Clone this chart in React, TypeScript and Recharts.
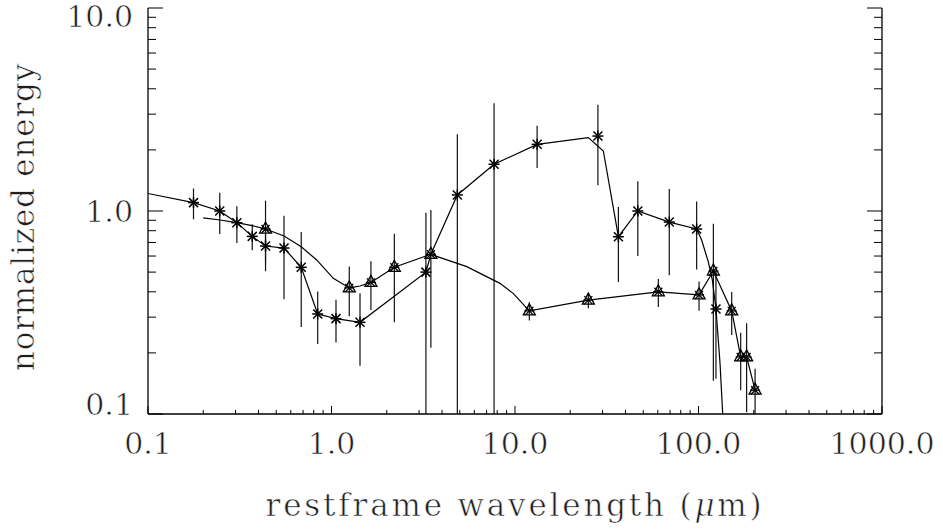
import React from 'react';
import { ComposedChart, Line, Scatter, XAxis, YAxis, Label } from 'recharts';

// ---- data ----
const starWavelength = [0.177, 0.246, 0.305, 0.370, 0.437, 0.551, 0.684, 0.841, 1.058, 1.43, 3.27, 4.85, 7.69, 13.2, 28.3, 36.6, 46.7, 69.3, 97.7, 124.5];
const starEnergy = [1.10, 1.00, 0.876, 0.75, 0.672, 0.657, 0.528, 0.311, 0.295, 0.283, 0.50, 1.20, 1.70, 2.13, 2.34, 0.747, 1.00, 0.882, 0.815, 0.329];
const starError = [0.19, 0.23, 0.18, 0.11, 0.12, 0.29, 0.26, 0.09, 0.07, 0.11, 0.48, 1.19, 1.69, 0.50, 1.00, 0.30, 0.40, 0.40, 0.30, 0.18];

const triWavelength = [0.437, 1.25, 1.64, 2.20, 3.48, 11.97, 25.1, 60.4, 100.7, 120.5, 151.7, 169.8, 182.9, 203.4];
const triEnergy = [0.815, 0.418, 0.445, 0.528, 0.612, 0.322, 0.364, 0.40, 0.386, 0.506, 0.322, 0.191, 0.191, 0.131];
const triError = [0.31, 0.115, 0.12, 0.245, 0.40, 0.033, 0.032, 0.063, 0.063, 0.36, 0.077, 0.06, 0.089, 0.036];

const modelAWavelength = [0.1, 0.177, 0.246, 0.305, 0.370, 0.437, 0.551, 0.684, 0.841, 1.058, 1.43, 3.27, 3.48, 4.85, 7.69, 13.2, 25.1, 30.3, 36.6, 46.7, 69.3, 97.7, 104, 113, 119, 124.5, 131, 135.5, 138];
const modelAEnergy = [1.22, 1.10, 1.00, 0.876, 0.75, 0.672, 0.657, 0.528, 0.311, 0.295, 0.283, 0.50, 0.612, 1.20, 1.70, 2.13, 2.30, 1.975, 0.747, 1.00, 0.882, 0.815, 0.72, 0.563, 0.457, 0.329, 0.178, 0.10, 0.07];

const modelBWavelength = [0.20, 0.247, 0.304, 0.375, 0.437, 0.551, 0.684, 0.83, 1.023, 1.25, 1.43, 1.64, 2.20, 3.48, 3.74, 5.46, 8.28, 9.77, 11.97, 25.1, 60.4, 100.7, 120.5, 151.7, 169.8, 182.9, 203.4];
const modelBEnergy = [0.924, 0.903, 0.876, 0.844, 0.815, 0.753, 0.667, 0.574, 0.466, 0.418, 0.427, 0.445, 0.528, 0.612, 0.598, 0.532, 0.44, 0.393, 0.322, 0.364, 0.40, 0.386, 0.506, 0.322, 0.191, 0.191, 0.131];

const xMajorTicks = [0.1, 1, 10, 100, 1000];
const yMajorTicks = [0.1, 1, 10];
const minorMultipliers = [2, 3, 4, 5, 6, 7, 8, 9];

const xTitle = 'restframe wavelength (';
const yTitle = 'normalized energy';

// ---- derived tables ----
const starData = starWavelength.map((x, i) => ({ x, y: starEnergy[i] }));
const triData = triWavelength.map((x, i) => ({ x, y: triEnergy[i] }));
const modelA = modelAWavelength.map((x, i) => ({ x, y: modelAEnergy[i] }));
const modelB = modelBWavelength.map((x, i) => ({ x, y: modelBEnergy[i] }));

// each error bar is a two-point vertical segment, clipped to the plot like any line
const errorSegments = [
  ...starWavelength.map((x, i) => [
    { x, y: starEnergy[i] - starError[i] },
    { x, y: starEnergy[i] + starError[i] },
  ]),
  ...triWavelength.map((x, i) => [
    { x, y: triEnergy[i] - triError[i] },
    { x, y: triEnergy[i] + triError[i] },
  ]),
];

const withMinors = (majors: number[]) => {
  const out: number[] = [];
  majors.forEach((m, i) => {
    out.push(m);
    if (i < majors.length - 1) minorMultipliers.forEach((k) => out.push(m * k));
  });
  return out;
};
const xAllTicks = withMinors(xMajorTicks);
const yAllTicks = withMinors(yMajorTicks);

const isMajor = (v: number) => Math.abs(Math.log10(v) - Math.round(Math.log10(v))) < 1e-6;
const fmt = (v: number) => v.toFixed(1);

const FONT = '"DejaVu Serif", serif';
const TXT = '#1e1e1e';
const textStyle = { fontFamily: FONT };
const thin = { stroke: '#fff', strokeWidth: 0.6 };

const BottomTick = (p: any) => {
  const { x, y, payload } = p;
  const major = isMajor(payload.value);
  return (
    <g>
      <line x1={x} y1={y} x2={x} y2={y - (major ? 8 : 4)} stroke="#000" strokeWidth={1} />
      {major && (
        <text x={x} y={y + 40} textAnchor="middle" style={textStyle} fontFamily={FONT} fontSize={30} fill={TXT} {...thin}>
          {fmt(payload.value)}
        </text>
      )}
    </g>
  );
};

const TopTick = (p: any) => {
  const { x, y, payload } = p;
  const major = isMajor(payload.value);
  return <line x1={x} y1={y} x2={x} y2={y + (major ? 8 : 4)} stroke="#000" strokeWidth={1} />;
};

const LeftTick = (p: any) => {
  const { x, y, payload } = p;
  const v = payload.value;
  const major = isMajor(v);
  const dy = v >= 10 ? 19 : v <= 0.1 ? 1 : 11;
  return (
    <g>
      <line x1={x} y1={y} x2={x + (major ? 15 : 8)} y2={y} stroke="#000" strokeWidth={1} />
      {major && (
        <text x={x - 15} y={y + dy} textAnchor="end" style={textStyle} fontFamily={FONT} fontSize={30} fill={TXT} {...thin}>
          {fmt(v)}
        </text>
      )}
    </g>
  );
};

const RightTick = (p: any) => {
  const { x, y, payload } = p;
  const major = isMajor(payload.value);
  return <line x1={x} y1={y} x2={x - (major ? 15 : 8)} y2={y} stroke="#000" strokeWidth={1} />;
};

const StarMark = (p: any) => {
  const { cx, cy } = p;
  const r = 5.5;
  const d = 4.5;
  return (
    <g stroke="#000" strokeWidth={1.5}>
      <line x1={cx - r} y1={cy} x2={cx + r} y2={cy} />
      <line x1={cx} y1={cy - r} x2={cx} y2={cy + r} />
      <line x1={cx - d} y1={cy - d} x2={cx + d} y2={cy + d} />
      <line x1={cx - d} y1={cy + d} x2={cx + d} y2={cy - d} />
    </g>
  );
};

const TriMark = (p: any) => {
  const { cx, cy } = p;
  const d = 4;
  return (
    <g stroke="#000" strokeWidth={1.3} fill="none">
      <polygon points={`${cx},${cy - 7} ${cx - 6},${cy + 4} ${cx + 6},${cy + 4}`} />
      <line x1={cx - d} y1={cy - d} x2={cx + d} y2={cy + d} />
      <line x1={cx - d} y1={cy + d} x2={cx + d} y2={cy - d} />
      <line x1={cx - 5} y1={cy} x2={cx + 5} y2={cy} />
    </g>
  );
};

const XTitle = (p: any) => {
  const vb = p.viewBox;
  return (
    <text x={vb.x + vb.width / 2} y={vb.y + vb.height - 13} textAnchor="middle" style={textStyle} fontFamily={FONT} fontSize={31} letterSpacing={2.8} fill={TXT} {...thin}>
      {xTitle}
      <tspan fontStyle="italic">μ</tspan>
      {'m)'}
    </text>
  );
};

const YTitle = () => {
  const cx = 34;
  const cy = 217;
  return (
    <text x={cx} y={cy} transform={`rotate(-90, ${cx}, ${cy})`} textAnchor="middle" style={textStyle} fontFamily={FONT} fontSize={31} letterSpacing={0.8} fill={TXT} {...thin}>
      {yTitle}
    </text>
  );
};

export default function App() {
  return (
    <div style={{ position: 'absolute', left: 0, top: 0, width: 943, height: 529, background: '#fff' }}>
      <ComposedChart width={943} height={529} margin={{ top: 8, right: 60, bottom: 0, left: 0 }}>
        <XAxis
          xAxisId="bottom"
          dataKey="x"
          type="number"
          scale="log"
          domain={[0.1, 1000]}
          allowDataOverflow
          ticks={xAllTicks}
          interval={0}
          tickSize={0}
          tickMargin={0}
          height={115}
          tickLine={false}
          tick={<BottomTick />}
          axisLine={{ stroke: '#000', strokeWidth: 1.3 }}
        >
          <Label content={<XTitle />} />
        </XAxis>
        <XAxis
          xAxisId="top"
          orientation="top"
          dataKey="x"
          type="number"
          scale="log"
          domain={[0.1, 1000]}
          allowDataOverflow
          ticks={xAllTicks}
          interval={0}
          tickSize={0}
          tickMargin={0}
          height={0}
          tickLine={false}
          tick={<TopTick />}
          axisLine={{ stroke: '#000', strokeWidth: 1.3 }}
        />
        <YAxis
          yAxisId="left"
          dataKey="y"
          type="number"
          scale="log"
          domain={[0.1, 10]}
          allowDataOverflow
          ticks={yAllTicks}
          interval={0}
          tickSize={0}
          tickMargin={0}
          width={148}
          tickLine={false}
          tick={<LeftTick />}
          axisLine={{ stroke: '#000', strokeWidth: 1.3 }}
        >
          <Label content={<YTitle />} />
        </YAxis>
        <YAxis
          yAxisId="right"
          orientation="right"
          dataKey="y"
          type="number"
          scale="log"
          domain={[0.1, 10]}
          allowDataOverflow
          ticks={yAllTicks}
          interval={0}
          tickSize={0}
          tickMargin={0}
          width={1}
          tickLine={false}
          tick={<RightTick />}
          axisLine={{ stroke: '#000', strokeWidth: 1.3 }}
        />
        {errorSegments.map((seg, i) => (
          <Line
            key={`err-${i}`}
            data={seg}
            dataKey="y"
            xAxisId="bottom"
            yAxisId="left"
            type="linear"
            stroke="#111"
            strokeWidth={1.2}
            dot={false}
            activeDot={false}
            isAnimationActive={false}
          />
        ))}
        <Line
          data={modelA}
          dataKey="y"
          xAxisId="bottom"
          yAxisId="left"
          type="linear"
          stroke="#000"
          strokeWidth={1.2}
          dot={false}
          activeDot={false}
          isAnimationActive={false}
        />
        <Line
          data={modelB}
          dataKey="y"
          xAxisId="bottom"
          yAxisId="left"
          type="linear"
          stroke="#000"
          strokeWidth={1.2}
          dot={false}
          activeDot={false}
          isAnimationActive={false}
        />
        <Scatter data={starData} dataKey="y" xAxisId="bottom" yAxisId="left" shape={<StarMark />} isAnimationActive={false} />
        <Scatter data={triData} dataKey="y" xAxisId="bottom" yAxisId="left" shape={<TriMark />} isAnimationActive={false} />
      </ComposedChart>
    </div>
  );
}
